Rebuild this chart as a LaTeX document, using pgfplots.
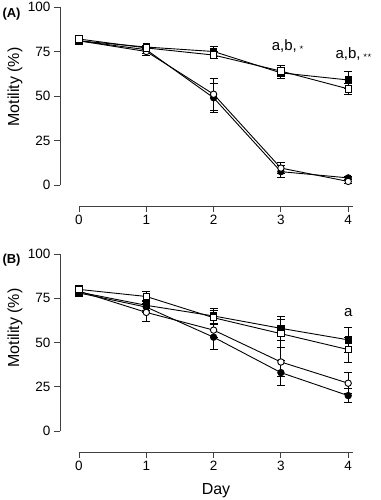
\documentclass[border=0pt]{standalone}
\usepackage{pgfplots}
\pgfplotsset{compat=1.18}
\usepackage{fontspec}
\setmainfont{Liberation Sans}
\newcommand{\st}{\raisebox{0.2ex}{\footnotesize$\star$}}
\begin{document}
\begin{tikzpicture}[x=1pt,y=1pt]
\useasboundingbox (0,0) rectangle (380,-500);
\pgfplotsset{
 panel/.style={
  x=67.3pt, xmin=0, xmax=4.07, ymin=0, ymax=100,
  axis x line*=bottom, axis y line*=left,
  axis x line shift=21pt, axis y line shift=19pt,
  xtick={0,...,4}, ytick={0,25,50,75,100},
  tick align=outside, major tick length=6pt,
  tick style={black!75, line width=0.9pt},
  axis line style={black!75, line width=0.9pt},
  tick label style={font=\fontsize{13.5}{15}\selectfont},
  /pgf/number format/assume math mode=true,
  clip=false,
 },
 eb/.style={error bars/.cd, y dir=both, y explicit,
   error bar style={line width=0.9pt, black},
   error mark options={rotate=90, mark size=4pt, line width=0.9pt, black}},
 fc/.style={black, line width=0.9pt, mark=*, mark size=3.2pt, mark options={fill=black}},
 oc/.style={black, line width=0.9pt, mark=*, mark size=3.2pt, mark options={fill=white}},
 fs/.style={black, line width=0.9pt, mark=square*, mark size=3.2pt, mark options={fill=black}},
 os/.style={black, line width=0.9pt, mark=square*, mark size=3.2pt, mark options={fill=white}},
}
% Panel A
\begin{axis}[panel, y=1.78pt, at={(79pt,-185pt)}, anchor=south west]
\addplot[fc, eb] coordinates {(0,81)+-(0,1) (1,76)+-(0,2) (2,49)+-(0,8) (3,7.5)+-(0,3.5) (4,4)+-(0,1)};
\addplot[oc, eb] coordinates {(0,81)+-(0,1) (1,75)+-(0,2) (2,51)+-(0,9) (3,9.5)+-(0,3) (4,2)+-(0,1)};
\addplot[fs, eb] coordinates {(0,81)+-(0,1) (1,77.5)+-(0,1) (2,75)+-(0,3) (3,63)+-(0,3) (4,59)+-(0,5)};
\addplot[os, eb] coordinates {(0,82)+-(0,1) (1,77)+-(0,1) (2,73)+-(0,2) (3,64)+-(0,3) (4,54)+-(0,3)};
\node[font=\fontsize{15}{17}\selectfont] at (axis cs:3.1,78) {a,b,\,\st};
\node[font=\fontsize{15}{17}\selectfont] at (axis cs:4.08,73.5) {a,b,\,\st\st};
\end{axis}
% Panel B
\begin{axis}[panel, y=1.77pt, at={(79pt,-431pt)}, anchor=south west]
\addplot[fc, eb] coordinates {(0,78)+-(0,2) (1,70)+-(0,3) (2,53)+-(0,7) (3,33)+-(0,7) (4,20)+-(0,4)};
\addplot[oc, eb] coordinates {(0,79)+-(0,2) (1,67)+-(0,5) (2,57)+-(0,4) (3,39)+-(0,8) (4,27)+-(0,6)};
\addplot[fs, eb] coordinates {(0,78.5)+-(0,2) (1,71)+-(0,3) (2,65)+-(0,4) (3,58)+-(0,7) (4,51.5)+-(0,7)};
\addplot[os, eb] coordinates {(0,80)+-(0,2) (1,76)+-(0,3) (2,64)+-(0,4) (3,55)+-(0,8) (4,46)+-(0,7)};
\node[font=\fontsize{15}{17}\selectfont] at (axis cs:4,67) {a};
\end{axis}
\node[font=\bfseries\fontsize{13}{15}\selectfont, anchor=west] at (-1,-14) {(A)};
\node[font=\bfseries\fontsize{13}{15}\selectfont, anchor=west] at (-1,-260) {(B)};
\node[font=\fontsize{16}{18}\selectfont, rotate=90] at (15,-87) {Motility (\%)};
\node[font=\fontsize{16}{18}\selectfont, rotate=90] at (15,-328) {Motility (\%)};
\node[font=\fontsize{16}{18}\selectfont] at (216,-491) {Day};
\end{tikzpicture}
\end{document}
